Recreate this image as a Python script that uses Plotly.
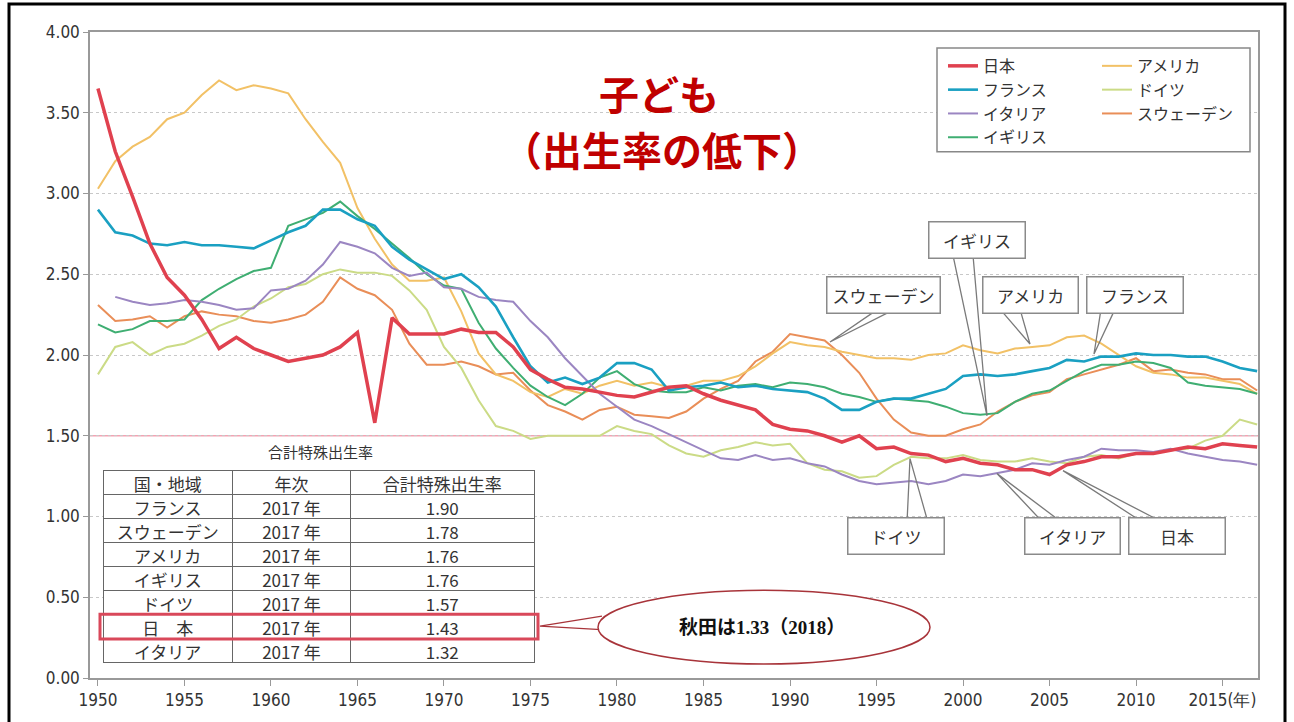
import plotly.graph_objects as go

years = list(range(1950, 2018))

japan = [3.65, 3.26, 2.98, 2.69, 2.48, 2.37, 2.22, 2.04, 2.11, 2.04, 2.00, 1.96, 1.98, 2.00, 2.05, 2.14, 1.58, 2.23, 2.13, 2.13,
         2.13, 2.16, 2.14, 2.14, 2.05, 1.91, 1.85, 1.80, 1.79, 1.77, 1.75, 1.74, 1.77, 1.80, 1.81, 1.76, 1.72, 1.69, 1.66, 1.57,
         1.54, 1.53, 1.50, 1.46, 1.50, 1.42, 1.43, 1.39, 1.38, 1.34, 1.36, 1.33, 1.32, 1.29, 1.29, 1.26, 1.32, 1.34, 1.37, 1.37,
         1.39, 1.39, 1.41, 1.43, 1.42, 1.45, 1.44, 1.43]
france = [2.90, 2.76, 2.74, 2.69, 2.68, 2.70, 2.68, 2.68, 2.67, 2.66, 2.71, 2.76, 2.80, 2.90, 2.90, 2.84, 2.80, 2.67, 2.59, 2.53,
          2.47, 2.50, 2.42, 2.30, 2.11, 1.93, 1.83, 1.86, 1.82, 1.86, 1.95, 1.95, 1.91, 1.78, 1.80, 1.81, 1.83, 1.80, 1.81, 1.79,
          1.78, 1.77, 1.73, 1.66, 1.66, 1.71, 1.73, 1.73, 1.76, 1.79, 1.87, 1.88, 1.87, 1.88, 1.90, 1.92, 1.97, 1.96, 1.99, 1.99,
          2.01, 2.00, 2.00, 1.99, 1.99, 1.96, 1.92, 1.90]
italy = [None, 2.36, 2.33, 2.31, 2.32, 2.34, 2.33, 2.31, 2.28, 2.29, 2.40, 2.41, 2.46, 2.56, 2.70, 2.67, 2.63, 2.54, 2.49, 2.51,
         2.42, 2.41, 2.36, 2.34, 2.33, 2.21, 2.11, 1.98, 1.87, 1.76, 1.68, 1.60, 1.56, 1.51, 1.46, 1.41, 1.36, 1.35, 1.38, 1.35,
         1.36, 1.33, 1.31, 1.26, 1.22, 1.20, 1.21, 1.22, 1.20, 1.22, 1.26, 1.25, 1.27, 1.29, 1.33, 1.32, 1.35, 1.37, 1.42, 1.41,
         1.41, 1.40, 1.42, 1.39, 1.37, 1.35, 1.34, 1.32]
uk = [2.19, 2.14, 2.16, 2.21, 2.21, 2.22, 2.34, 2.41, 2.47, 2.52, 2.54, 2.80, 2.84, 2.88, 2.95, 2.86, 2.78, 2.69, 2.60, 2.50,
      2.43, 2.41, 2.20, 2.04, 1.92, 1.81, 1.74, 1.69, 1.76, 1.86, 1.90, 1.82, 1.78, 1.77, 1.77, 1.80, 1.78, 1.81, 1.82, 1.80,
      1.83, 1.82, 1.80, 1.76, 1.74, 1.71, 1.73, 1.72, 1.71, 1.68, 1.64, 1.63, 1.64, 1.71, 1.76, 1.78, 1.84, 1.90, 1.94, 1.94,
      1.96, 1.95, 1.92, 1.83, 1.81, 1.80, 1.79, 1.76]
usa = [3.03, 3.20, 3.29, 3.35, 3.46, 3.50, 3.61, 3.70, 3.64, 3.67, 3.65, 3.62, 3.46, 3.32, 3.19, 2.91, 2.72, 2.56, 2.46, 2.46,
       2.48, 2.27, 2.01, 1.88, 1.84, 1.77, 1.74, 1.79, 1.76, 1.81, 1.84, 1.81, 1.83, 1.80, 1.81, 1.84, 1.84, 1.87, 1.93, 2.01,
       2.08, 2.06, 2.05, 2.02, 2.00, 1.98, 1.98, 1.97, 2.00, 2.01, 2.06, 2.03, 2.01, 2.04, 2.05, 2.06, 2.11, 2.12, 2.07, 2.00,
       1.93, 1.89, 1.88, 1.86, 1.86, 1.84, 1.82, 1.76]
germany = [1.88, 2.05, 2.08, 2.00, 2.05, 2.07, 2.12, 2.18, 2.22, 2.30, 2.35, 2.42, 2.44, 2.50, 2.53, 2.51, 2.51, 2.49, 2.40, 2.28,
           2.05, 1.92, 1.72, 1.56, 1.53, 1.48, 1.50, 1.50, 1.50, 1.50, 1.56, 1.53, 1.51, 1.44, 1.39, 1.37, 1.41, 1.43, 1.46, 1.44,
           1.45, 1.33, 1.29, 1.28, 1.24, 1.25, 1.32, 1.37, 1.36, 1.36, 1.38, 1.35, 1.34, 1.34, 1.36, 1.34, 1.33, 1.37, 1.38, 1.36,
           1.39, 1.39, 1.41, 1.42, 1.47, 1.50, 1.60, 1.57]
sweden = [2.31, 2.21, 2.22, 2.24, 2.17, 2.24, 2.27, 2.25, 2.24, 2.21, 2.20, 2.22, 2.25, 2.33, 2.48, 2.41, 2.37, 2.28, 2.07, 1.94,
          1.94, 1.96, 1.93, 1.88, 1.89, 1.78, 1.69, 1.65, 1.60, 1.66, 1.68, 1.63, 1.62, 1.61, 1.65, 1.73, 1.79, 1.84, 1.96, 2.02,
          2.13, 2.11, 2.09, 2.00, 1.89, 1.73, 1.60, 1.52, 1.50, 1.50, 1.54, 1.57, 1.65, 1.71, 1.75, 1.77, 1.85, 1.88, 1.91, 1.94,
          1.98, 1.90, 1.91, 1.89, 1.88, 1.85, 1.85, 1.78]

table_countries = ["フランス", "スウェーデン", "アメリカ", "イギリス", "ドイツ", "日　本", "イタリア"]
table_years = ["2017 年"] * 7
table_rates = ["1.90", "1.78", "1.76", "1.76", "1.57", "1.43", "1.32"]

y_ticks = [0, 0.5, 1.0, 1.5, 2.0, 2.5, 3.0, 3.5, 4.0]
x_ticks = list(range(1950, 2020, 5))
x_ticktext = [str(v) for v in x_ticks[:-1]] + ["2015(年)"]

JP = "Noto Sans CJK JP, Noto Sans, sans-serif"
NUM = "DejaVu Sans Condensed, Liberation Sans Narrow, Liberation Sans, Arial, sans-serif"

W, H = 1294, 722
L, R, T, B = 90, 1258, 32, 680


def px(x):
    return (x - L) / (R - L)


def py(y):
    return (B - y) / (B - T)


series = [
    ("日本", japan, "#E0414F", 3.5, "legend"),
    ("フランス", france, "#1AA0C2", 2.6, "legend"),
    ("イタリア", italy, "#9B86C2", 2.0, "legend"),
    ("イギリス", uk, "#3FAE72", 2.0, "legend"),
    ("アメリカ", usa, "#F2C166", 2.0, "legend2"),
    ("ドイツ", germany, "#CBDB86", 2.0, "legend2"),
    ("スウェーデン", sweden, "#E98E58", 2.0, "legend2"),
]

fig = go.Figure()

# draw order: lighter lines first, Japan on top
for name, vals, color, width, lg in series[::-1]:
    fig.add_trace(go.Scatter(
        x=years, y=vals, mode="lines", name=name,
        line=dict(color=color, width=width),
        legend=lg, connectgaps=False,
    ))

# table
fig.add_trace(go.Table(
    domain=dict(x=[px(103), px(534)], y=[py(666), py(472)]),
    columnwidth=[129, 118, 183],
    header=dict(values=["国・地域", "年次", "合計特殊出生率"],
                fill_color="white", line_color="#666", line_width=1,
                font=dict(family=JP, size=17, color="#333"), align="center", height=24),
    cells=dict(values=[table_countries, table_years, table_rates],
               fill_color="white", line_color="#666", line_width=1,
               font=dict(family=JP, size=17, color="#333"), align="center", height=24),
))

shapes = []
# outer frame
shapes.append(dict(type="rect", xref="paper", yref="paper",
                   x0=px(9), x1=px(1285), y0=py(728), y1=py(4),
                   line=dict(color="black", width=3), fillcolor="rgba(0,0,0,0)", layer="above"))
# 1.50 pink line
shapes.append(dict(type="line", xref="paper", yref="y", x0=0, x1=1, y0=1.5, y1=1.5,
                   line=dict(color="#F3A3B3", width=1.6), layer="below"))
# legend box
shapes.append(dict(type="rect", xref="paper", yref="paper",
                   x0=px(937), x1=px(1250), y0=py(152), y1=py(48),
                   line=dict(color="#888", width=1.5), fillcolor="white", layer="above"))

# callout pointer wedges (two converging lines)
wedges = [
    ((878, 310), (895, 310), (830, 343)),
    ((953, 256), (973, 256), (987, 417)),
    ((1000, 310), (1020, 310), (1030, 345)),
    ((1101, 310), (1115, 310), (1094, 355)),
    ((907, 524), (928, 524), (910, 460)),
    ((1043, 524), (1062, 524), (997, 475)),
    ((1143, 524), (1163, 524), (1063, 472)),
]
for a, b, t in wedges:
    path = "M {:.5f},{:.5f} L {:.5f},{:.5f} L {:.5f},{:.5f}".format(
        px(a[0]), py(a[1]), px(t[0]), py(t[1]), px(b[0]), py(b[1]))
    shapes.append(dict(type="path", xref="paper", yref="paper", path=path,
                       line=dict(color="#7a7a7a", width=1.3), fillcolor="rgba(0,0,0,0)", layer="above"))

# Japan highlight in table
shapes.append(dict(type="rect", xref="paper", yref="paper",
                   x0=px(100), x1=px(538), y0=py(641), y1=py(616),
                   line=dict(color="#D9485A", width=3), fillcolor="rgba(0,0,0,0)", layer="above"))
# callout ellipse and its pointer
shapes.append(dict(type="path", xref="paper", yref="paper",
                   path="M {:.5f},{:.5f} L {:.5f},{:.5f} L {:.5f},{:.5f}".format(
                       px(602), py(618), px(540), py(628), px(610), py(632)),
                   line=dict(color="#A8343A", width=1.3), fillcolor="rgba(0,0,0,0)", layer="above"))
shapes.append(dict(type="circle", xref="paper", yref="paper",
                   x0=px(598), x1=px(930), y0=py(666), y1=py(592),
                   line=dict(color="#A8343A", width=1.5), fillcolor="white", layer="above"))

C = dict(xanchor="center", yanchor="middle", showarrow=False, xref="paper", yref="paper")
annotations = [
    dict(text="<b>子ども</b>", x=px(659), y=py(93),
         font=dict(family=JP, size=40, color="#C00000"), **C),
    dict(text="<b>（出生率の低下）</b>", x=px(662), y=py(149),
         font=dict(family=JP, size=40, color="#C00000"), **C),
    dict(text="合計特殊出生率", x=px(320), y=py(453),
         font=dict(family=JP, size=15, color="#333"), **C),
    dict(text="<b>秋田は1.33（2018）</b>", x=px(762), y=py(629),
         font=dict(family="Liberation Serif, Noto Sans CJK JP, serif", size=19, color="#111"), **C),
]

callouts = [
    ("スウェーデン", 883, 296, ""),
    ("イギリス", 977, 241, "\u2002"),
    ("アメリカ", 1030, 296, "\u2002"),
    ("フランス", 1135, 296, "\u2002"),
    ("ドイツ", 896, 538, "\u2003"),
    ("イタリア", 1072, 538, "\u2002"),
    ("日本", 1177, 538, "\u2003\u2002"),
]
for text, cx, cy, pad in callouts:
    annotations.append(dict(
        text=pad + text + pad, x=px(cx), y=py(cy),
        font=dict(family=JP, size=17, color="#333"),
        bgcolor="white", bordercolor="#8a8a8a", borderwidth=1.5, borderpad=5, **C,
    ))

fig.update_layout(
    width=W, height=H,
    margin=dict(l=L, r=W - R, t=T, b=H - B, pad=0),
    paper_bgcolor="white", plot_bgcolor="white",
    showlegend=True,
    legend=dict(x=px(943), y=py(49), xanchor="left", yanchor="top",
                bgcolor="rgba(0,0,0,0)", borderwidth=0, tracegroupgap=0,
                font=dict(family=JP, size=16, color="#333"), traceorder="reversed"),
    legend2=dict(x=px(1097), y=py(49), xanchor="left", yanchor="top",
                 bgcolor="rgba(0,0,0,0)", borderwidth=0, tracegroupgap=0,
                 font=dict(family=JP, size=16, color="#333"), traceorder="reversed"),
    xaxis=dict(range=[1949.54, 2017.05], tickvals=x_ticks, ticktext=x_ticktext,
               showgrid=False, zeroline=False, showline=True, mirror=True,
               linecolor="#999", linewidth=1.5, ticks="outside", ticklen=6, tickcolor="#999",
               tickfont=dict(family=NUM, size=17, color="#333")),
    yaxis=dict(range=[0, 4.0], tickvals=y_ticks, tickformat=".2f",
               showgrid=True, gridcolor="#c8c8c8", griddash="dot", gridwidth=1.2,
               zeroline=False, showline=True, mirror=True,
               linecolor="#999", linewidth=1.5, ticks="outside", ticklen=5, tickcolor="#999",
               tickfont=dict(family=NUM, size=17, color="#333")),
    shapes=shapes,
    annotations=annotations,
)

fig.write_html("out.html", config={"displayModeBar": False},
               post_script="document.body.style.margin='0px';document.body.style.overflow='hidden';")
